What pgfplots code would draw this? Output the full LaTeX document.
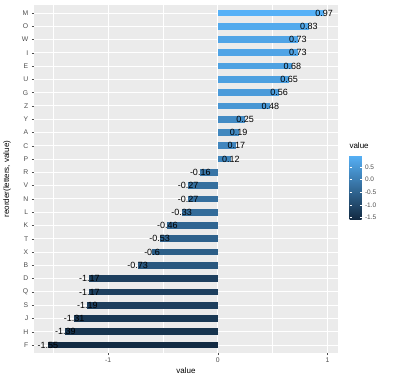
\documentclass[border=0pt]{standalone}
\usepackage{pgfplots}
\usepackage{pgfplotstable}
\pgfplotsset{compat=1.18}
\usepackage{fontspec}
\setmainfont{Liberation Sans}
\definecolor{panelbg}{HTML}{EBEBEB}
\definecolor{ticktxt}{HTML}{4D4D4D}
\definecolor{gglo}{RGB}{19,43,67}
\definecolor{gghi}{RGB}{86,177,247}
\pgfplotstableread{
lab v
F -1.55
H -1.39
J -1.31
S -1.19
Q -1.17
D -1.17
B -0.73
X -0.6
T -0.53
K -0.46
L -0.33
N -0.27
V -0.27
R -0.16
P 0.12
C 0.17
A 0.19
Y 0.25
Z 0.48
G 0.56
U 0.65
E 0.68
I 0.73
W 0.73
O 0.83
M 0.97
}\datatab
\pgfplotsset{mybar/.style={xbar, bar width=0.5, bar shift=0pt, draw=none, point meta=x,
  nodes near coords={\pgfmathprintnumber[assume math mode=true]{\pgfplotspointmeta}},
  every node near coord/.append style={anchor=center, text=black, font=\fontsize{9}{10}\selectfont, inner sep=0pt}}}
\begin{document}
\begin{tikzpicture}[x=1pt,y=1pt]
\path[use as bounding box] (0,0) rectangle (401,384);
\begin{axis}[
  at={(34pt,31pt)}, anchor=south west,
  scale only axis, width=304pt, height=348pt,
  xmin=-1.676, xmax=1.096, ymin=0.4, ymax=26.6,
  axis background/.style={fill=panelbg},
  axis line style={draw=none},
  xtick={-1,0,1}, xticklabels={-1,0,1},
  minor xtick={-1.5,-0.5,0.5},
  ytick={1,...,26},
  yticklabels={F,H,J,S,Q,D,B,X,T,K,L,N,V,R,P,C,A,Y,Z,G,U,E,I,W,O,M},
  xtick pos=bottom, ytick pos=left,
  ticklabel style={font=\fontsize{6.8}{7}\selectfont, text=ticktxt},
  xticklabel style={yshift=1pt},
  tick align=outside, major tick length=2.2pt, minor tick length=0pt,
  tick style={ticktxt, line width=0.5pt},
  xmajorgrids, ymajorgrids, xminorgrids,
  major grid style={white, line width=0.9pt},
  minor grid style={white, line width=0.45pt},
  xlabel={value}, ylabel={reorder(letters, value)},
  label style={font=\fontsize{8}{9}\selectfont},
  xlabel style={at={(axis description cs:0.5,0)}, anchor=center, yshift=-18pt},
  ylabel style={at={(axis description cs:0,0.5)}, anchor=center, yshift=27pt},
  colormap={gg}{rgb255=(19,43,67) rgb255=(86,177,247)},
  point meta min=-1.55, point meta max=0.97,
  colorbar,
  colorbar style={
    at={(parent axis.south east)}, anchor=south west,
    xshift=3pt, yshift=134pt,
    width=12pt, height=64pt,
    ytick={-1.5,-1,-0.5,0,0.5},
    yticklabels={-1.5,-1.0,-0.5,0.0,0.5},
    yticklabel pos=right,
    yticklabel style={font=\fontsize{6.5}{7}\selectfont, text=ticktxt},
    major tick length=2pt,
    tick style={white, line width=0.5pt},
    axis line style={draw=none},
  },
]
\pgfplotsinvokeforeach{0,...,25}{
  \pgfplotstablegetelem{#1}{v}\of\datatab
  \let\val\pgfplotsretval
  \pgfmathsetmacro\pct{(\val+1.55)/2.52*100}
  \edef\doplot{\noexpand\addplot[mybar, fill=gghi!\pct!gglo] coordinates {(\val,\the\numexpr#1+1\relax)};}
  \doplot
}
\end{axis}
\node[anchor=west, font=\fontsize{8}{9}\selectfont, text=black] at (346,238) {value};
\end{tikzpicture}
\end{document}
